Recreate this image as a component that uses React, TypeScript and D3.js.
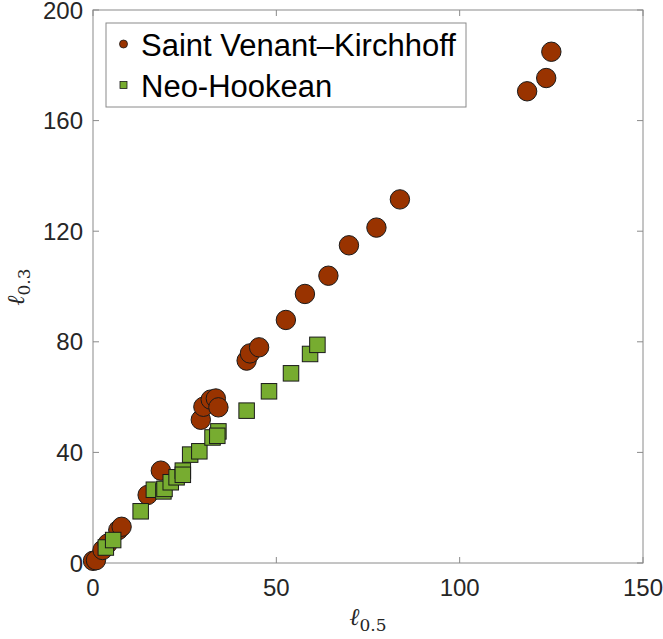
import React from 'react';
import * as d3 from 'd3';

// l_0.5 vs l_0.3 for the two material models
const svkX = [0, 0.8, 2.6, 4.0, 6.9, 7.8, 14.9, 18.5, 29.4, 30.1, 32.1, 33.5, 34.2, 41.9, 42.8, 45.3, 52.6, 57.8, 64.2, 69.8, 77.3, 83.7, 118.4, 123.6, 125.0];
const svkY = [0.8, 1.0, 4.7, 7.0, 11.9, 13.1, 24.6, 33.4, 51.8, 56.5, 59.1, 59.5, 56.3, 73.2, 75.8, 78.0, 87.9, 97.3, 103.9, 114.9, 121.3, 131.5, 170.6, 175.4, 184.9];

const nhX = [3.5, 5.5, 13.0, 16.6, 19.2, 19.5, 21.2, 22.8, 24.5, 24.5, 26.5, 29.0, 32.6, 34.2, 33.9, 41.9, 48.0, 54.0, 59.2, 61.2];
const nhY = [5.6, 8.3, 18.7, 26.5, 25.9, 26.8, 29.2, 31.0, 33.4, 31.9, 39.2, 40.4, 45.4, 47.6, 46.0, 55.1, 62.1, 68.6, 75.6, 78.9];

const xTicks = [0, 50, 100, 150];
const yTicks = [0, 40, 80, 120, 160, 200];
const legendNames = ['Saint Venant\u2013Kirchhoff', 'Neo-Hookean'];

const W = 663;
const H = 639;
const left = 93, right = 643, top = 10, bottom = 563;
const svkColor = '#993300';
const nhColor = '#77ac30';
const axisColor = '#8a8a8a';
const sans = '"Liberation Sans", Arial, sans-serif';
const serif = '"DejaVu Serif", "Liberation Serif", serif';

const App = () => {
  const x = d3.scaleLinear().domain([0, 150]).range([left, right]);
  const y = d3.scaleLinear().domain([0, 200]).range([bottom, top]);
  const svk = svkX.map((v, i) => ({ x: v, y: svkY[i] }));
  const nh = nhX.map((v, i) => ({ x: v, y: nhY[i] }));
  const sq = 15.5;

  return (
    <svg width={W} height={H} style={{ position: 'absolute', left: 0, top: 0, background: '#fff' }}>
      {/* axes box */}
      <rect x={left} y={top} width={right - left} height={bottom - top} fill="none" stroke={axisColor} strokeWidth={1} />
      {xTicks.map(t => (
        <g key={'x' + t}>
          <line x1={x(t)} x2={x(t)} y1={bottom} y2={bottom - 6} stroke={axisColor} />
          <line x1={x(t)} x2={x(t)} y1={top} y2={top + 6} stroke={axisColor} />
          <text x={x(t)} y={596} textAnchor="middle" fontFamily={sans} fontSize={24} fill="#262626">{t}</text>
        </g>
      ))}
      {yTicks.map(t => (
        <g key={'y' + t}>
          <line x1={left} x2={left + 6} y1={y(t)} y2={y(t)} stroke={axisColor} />
          <line x1={right} x2={right - 6} y1={y(t)} y2={y(t)} stroke={axisColor} />
          <text x={83} y={y(t) + 8.5} textAnchor="end" fontFamily={sans} fontSize={24} fill="#262626">{t}</text>
        </g>
      ))}

      {/* axis labels */}
      <text x={368} y={625} textAnchor="middle" fontFamily={serif} fontSize={24} fill="#262626">
        <tspan fontStyle="italic">ℓ</tspan>
        <tspan fontSize={17} dy={6}>0.5</tspan>
      </text>
      <text transform="translate(24,287) rotate(-90)" textAnchor="middle" fontFamily={serif} fontSize={24} fill="#262626">
        <tspan fontStyle="italic">ℓ</tspan>
        <tspan fontSize={17} dy={6}>0.3</tspan>
      </text>

      {/* data */}
      {svk.map((d, i) => (
        <circle key={'c' + i} cx={x(d.x)} cy={y(d.y)} r={9.7} fill={svkColor} stroke="#1a1a1a" strokeWidth={1} />
      ))}
      {nh.map((d, i) => (
        <rect key={'s' + i} x={x(d.x) - sq / 2} y={y(d.y) - sq / 2} width={sq} height={sq} fill={nhColor} stroke="#1a1a1a" strokeWidth={1} />
      ))}

      {/* legend */}
      <rect x={106} y={23} width={360} height={84} fill="#fff" stroke={axisColor} strokeWidth={1} />
      <circle cx={123.5} cy={44} r={4} fill={svkColor} stroke="#1a1a1a" strokeWidth={0.8} />
      <rect x={120} y={81.5} width={7} height={7} fill={nhColor} stroke="#1a1a1a" strokeWidth={0.8} />
      <text x={141} y={56} fontFamily={sans} fontSize={31} fill="#000">{legendNames[0]}</text>
      <text x={141} y={97} fontFamily={sans} fontSize={31} fill="#000">{legendNames[1]}</text>
    </svg>
  );
};

export default App;
